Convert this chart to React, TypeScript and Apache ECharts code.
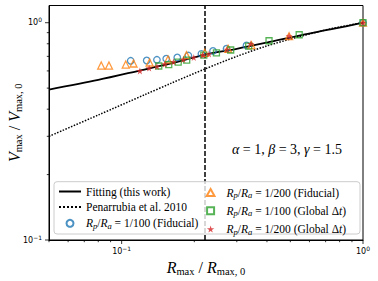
import React, { useEffect, useRef } from 'react';
import * as echarts from 'echarts';

// ---- data ----
const fitX = [0.05, 0.08, 0.12, 0.16, 0.22, 0.3, 0.4, 0.55, 0.75, 1.0];
const fitY = [0.492, 0.545, 0.604, 0.65, 0.712, 0.758, 0.81, 0.875, 0.936, 1.0];

const penX = [0.05, 0.08, 0.125, 0.16, 0.221, 0.3, 0.4, 0.55, 0.75, 1.0];
const penY = [0.3, 0.376, 0.467, 0.526, 0.612, 0.7, 0.782, 0.865, 0.942, 1.0];

const fid100X = [0.109, 0.127, 0.14, 0.153, 0.17, 0.189, 0.214, 0.239, 0.272, 0.329, 1.0];
const fid100Y = [0.668, 0.67, 0.675, 0.683, 0.692, 0.706, 0.719, 0.741, 0.759, 0.786, 1.0];

const fid200X = [0.0823, 0.0886, 0.104, 0.112, 0.1306, 0.1556, 0.1856, 0.221, 0.276, 0.345, 0.494, 1.0];
const fid200Y = [0.635, 0.635, 0.642, 0.649, 0.656, 0.677, 0.709, 0.727, 0.759, 0.788, 0.867, 1.0];

const glob100X = [0.1425, 0.1567, 0.1715, 0.186, 0.219, 0.247, 0.283, 0.336, 0.408, 0.544, 1.0];
const glob100Y = [0.632, 0.642, 0.659, 0.672, 0.71, 0.727, 0.749, 0.78, 0.826, 0.88, 1.0];

const glob200X = [0.119, 0.13, 0.14, 0.151, 0.164, 0.18, 0.199, 0.217, 0.23, 0.273, 0.343, 0.494, 1.0];
const glob200Y = [0.6, 0.618, 0.629, 0.645, 0.661, 0.677, 0.692, 0.71, 0.718, 0.753, 0.8, 0.867, 1.0];

const rmaxMark = 0.224;

const X_MIN = 0.05;
const X_MAX = 1;
const Y_MIN = 0.1;
const Y_MAX = 1.2;

const xMajorTicks = [0.1, 1];
const xMinorTicks = [0.05, 0.06, 0.07, 0.08, 0.09, 0.2, 0.3, 0.4, 0.5, 0.6, 0.7, 0.8, 0.9];
const yMajorTicks = [0.1, 1];
const yMinorTicks = [0.2, 0.3, 0.4, 0.5, 0.6, 0.7, 0.8, 0.9];

const N_FIT = 'Fitting (this work)';
const N_PEN = 'Penarrubia et al. 2010';
const N_F100 = 'Rp/Ra = 1/100 (Fiducial)';
const N_F200 = 'Rp/Ra = 1/200 (Fiducial)';
const N_G100 = 'Rp/Ra = 1/100 (Global Δt)';
const N_G200 = 'Rp/Ra = 1/200 (Global Δt)';

const SERIF = 'Liberation Serif';
const SANS = 'DejaVu Sans';

const zip = (xs: number[], ys: number[]) => xs.map((x, i) => [x, ys[i]]);

const STAR = 'path://M50,0 L61,35 L98,35 L68,57 L79,91 L50,70 L21,91 L32,57 L2,35 L39,35 Z';
const TRI = 'path://M5,0 L10,9 L0,9 Z';
const SQUARE = 'path://M0,0 L10,0 L10,10 L0,10 Z';

const legendText = (name: string) => {
  const rp = (frac: string) => `{i|R}{s|p}{n|/}{i|R}{s|a}{n| = ${frac} }`;
  switch (name) {
    case N_FIT:
      return '{n|Fitting (this work)}';
    case N_PEN:
      return '{n|Penarrubia et al. 2010}';
    case N_F100:
      return rp('1/100') + '{n|(Fiducial)}';
    case N_F200:
      return rp('1/200') + '{n|(Fiducial)}';
    case N_G100:
      return rp('1/100') + '{n|(Global Δ}{i|t}{n|)}';
    case N_G200:
      return rp('1/200') + '{n|(Global Δ}{i|t}{n|)}';
  }
  return name;
};

const legendRich = {
  n: { fontFamily: SERIF, fontSize: 11.5, lineHeight: 13, color: '#000' },
  i: { fontFamily: SERIF, fontStyle: 'italic', fontSize: 11.5, lineHeight: 13, color: '#000' },
  s: { fontFamily: SERIF, fontStyle: 'italic', fontSize: 8.5, lineHeight: 8, padding: [5, 0, 0, 0], color: '#000' },
};

const tickLabel = (v: number) => {
  const e = Math.log10(v);
  const r = Math.round(e);
  if (Math.abs(e - r) > 1e-6) return '';
  return r === 0 ? '{b|10}{p|0}' : `{b|10}{p|−${-r}}`;
};

const tickRich = {
  b: { fontFamily: SANS, fontSize: 8, lineHeight: 10, color: '#000' },
  p: { fontFamily: SANS, fontSize: 6, lineHeight: 6, padding: [0, 0, 6, 0], color: '#000' },
};

const nameRich = {
  i: { fontFamily: SERIF, fontStyle: 'italic', fontSize: 16, lineHeight: 18, color: '#000' },
  n: { fontFamily: SERIF, fontSize: 16, lineHeight: 18, color: '#000' },
  s: { fontFamily: SERIF, fontSize: 10.5, lineHeight: 10, padding: [8, 0, 0, 0], color: '#000' },
};

const tickSeries = (data: number[][]) => ({
  type: 'custom',
  coordinateSystem: 'cartesian2d',
  silent: true,
  clip: false,
  z: 10,
  encode: { x: 0, y: 1 },
  data,
  renderItem: (_params: any, api: any) => {
    const p = api.coord([api.value(0), api.value(1)]);
    const dx = api.value(2);
    const dy = api.value(3);
    return {
      type: 'line',
      shape: { x1: p[0], y1: p[1], x2: p[0] + dx, y2: p[1] + dy },
      style: { stroke: '#000', lineWidth: 0.8 },
    };
  },
});

const buildOption = () => {
  const tickData = [
    ...xMajorTicks.map((v) => [v, Y_MIN, 0, 4]),
    ...xMinorTicks.map((v) => [v, Y_MIN, 0, 2.2]),
    ...yMajorTicks.map((v) => [X_MIN, v, -4, 0]),
    ...yMinorTicks.map((v) => [X_MIN, v, -2.2, 0]),
  ];
  const legendBase = {
    orient: 'vertical',
    padding: 0,
    itemWidth: 22,
    itemHeight: 7,
    z: 7,
    formatter: legendText,
    textStyle: { rich: legendRich },
    selectedMode: false,
  };
  return {
    animation: false,
    backgroundColor: '#fff',
    grid: {
      left: 49,
      right: 15,
      top: 5.5,
      bottom: 41,
      show: true,
      borderColor: '#000',
      borderWidth: 1,
      containLabel: false,
      outerBoundsMode: 'none',
    },
    xAxis: {
      type: 'log',
      logBase: 10,
      min: X_MIN,
      max: X_MAX,
      splitLine: { show: false },
      axisTick: { show: false },
      minorTick: { show: false },
      axisLine: { show: true, lineStyle: { color: '#000', width: 1 } },
      axisLabel: { formatter: tickLabel, rich: tickRich, margin: 6 },
      name: '{i|R}{s|max}{n| / }{i|R}{s|max, 0}',
      nameLocation: 'middle',
      nameGap: 18,
      nameMoveOverlap: false,
      nameTextStyle: { rich: nameRich },
    },
    yAxis: {
      type: 'log',
      logBase: 10,
      min: Y_MIN,
      max: Y_MAX,
      splitLine: { show: false },
      axisTick: { show: false },
      minorTick: { show: false },
      axisLine: { show: true, lineStyle: { color: '#000', width: 1 } },
      axisLabel: { formatter: tickLabel, rich: tickRich, margin: 7 },
      name: '{i|V}{s|max}{n| / }{i|V}{s|max, 0}',
      nameLocation: 'middle',
      nameRotate: 90,
      nameGap: 26,
      nameMoveOverlap: false,
      nameTextStyle: { rich: nameRich },
    },
    legend: [
      {
        ...legendBase,
        data: [
          { name: N_FIT, itemStyle: { opacity: 0 } },
          { name: N_PEN, itemStyle: { opacity: 0 } },
          N_F100,
        ],
        left: 58,
        top: 185.5,
        itemGap: 3.4,
      },
      {
        ...legendBase,
        data: [
          { name: N_F200, icon: TRI },
          { name: N_G100, icon: SQUARE },
          N_G200,
        ],
        left: 205.7,
        top: 185.5,
        itemGap: 4.3,
      },
    ],
    graphic: {
      elements: [
        {
          type: 'rect',
          z: 6,
          shape: { x: 54, y: 181.7, width: 306, height: 52.3, r: 3 },
          style: { fill: 'rgba(255,255,255,0.8)', stroke: '#cccccc', lineWidth: 1 },
        },
        {
          type: 'text',
          z: 6,
          x: 287,
          y: 149,
          style: {
            text: '{i|α}{n| = 1, }{i|β}{n| = 3, }{i|γ}{n| = 1.5}',
            align: 'center',
            verticalAlign: 'middle',
            rich: {
              i: { fontFamily: SERIF, fontStyle: 'italic', fontSize: 14, fill: '#000' },
              n: { fontFamily: SERIF, fontSize: 14, fill: '#000' },
            },
          },
        },
      ],
    },
    series: [
      {
        name: N_FIT,
        type: 'line',
        data: zip(fitX, fitY),
        symbol: 'none',
        smooth: 0.3,
        lineStyle: { color: '#000', width: 1.8 },
        itemStyle: { color: '#000', opacity: 0 },
        z: 3,
        markLine: {
          silent: true,
          symbol: 'none',
          z: 3,
          label: { show: false },
          lineStyle: { color: '#000', width: 1.5, type: [5, 2], opacity: 1 },
          data: [{ xAxis: rmaxMark }],
        },
      },
      {
        name: N_PEN,
        type: 'line',
        data: zip(penX, penY),
        symbol: 'none',
        smooth: 0.3,
        lineStyle: { color: '#000', width: 1.5, type: 'dotted' },
        itemStyle: { color: '#000', opacity: 0 },
        z: 3,
      },
      {
        name: N_F100,
        type: 'scatter',
        data: zip(fid100X, fid100Y),
        symbol: 'circle',
        symbolSize: 6.5,
        itemStyle: { color: 'rgba(255,255,255,0)', borderColor: '#1f77b4', borderWidth: 1.3 },
        z: 4,
      },
      {
        name: N_F200,
        type: 'scatter',
        data: zip(fid200X, fid200Y),
        symbol: 'triangle',
        symbolSize: 7,
        itemStyle: { color: 'rgba(255,255,255,0)', borderColor: '#ff7f0e', borderWidth: 1.3 },
        z: 4,
      },
      {
        name: N_G100,
        type: 'scatter',
        data: zip(glob100X, glob100Y),
        symbol: 'rect',
        symbolSize: 6,
        itemStyle: { color: 'rgba(255,255,255,0)', borderColor: '#2ca02c', borderWidth: 1.3 },
        z: 4,
      },
      {
        name: N_G200,
        type: 'scatter',
        data: zip(glob200X, glob200Y),
        symbol: STAR,
        symbolSize: 7,
        itemStyle: { color: '#d62728' },
        z: 4,
      },
      tickSeries(tickData),
    ],
  };
};

export default function App() {
  const ref = useRef<HTMLDivElement>(null);
  useEffect(() => {
    const chart = echarts.init(ref.current!, null, { renderer: 'svg' });
    chart.setOption(buildOption() as any);
    return () => chart.dispose();
  }, []);
  return (
    <div
      ref={ref}
      style={{ position: 'fixed', left: 0, top: 0, width: 378, height: 281 }}
    />
  );
}
